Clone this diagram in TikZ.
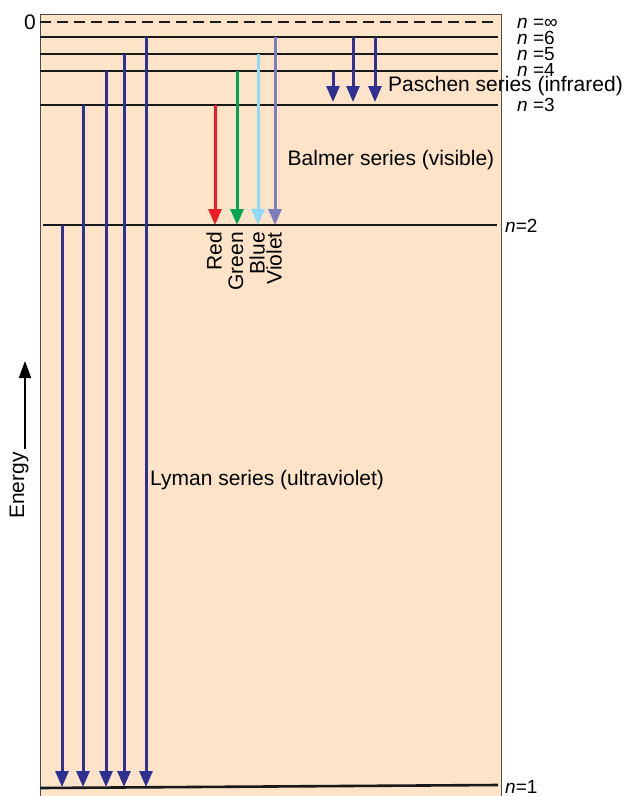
\documentclass[tikz,border=0pt]{standalone}
\usepackage{fontspec}
\setmainfont{Liberation Sans}
\usetikzlibrary{arrows.meta}
\definecolor{peach}{RGB}{253,227,200}
\definecolor{navy}{RGB}{46,49,146}
\definecolor{balred}{RGB}{237,28,36}
\definecolor{balgreen}{RGB}{0,166,81}
\definecolor{balblue}{RGB}{142,216,248}
\definecolor{balviolet}{RGB}{123,125,189}
\tikzset{
  level/.style={line width=2.6pt, black!90},
  trans/.style={line width=3pt, -{Triangle[length=16pt,width=13pt]}},
  lbl/.style={anchor=base west, inner sep=0pt, text height=12pt, text depth=0pt,
    font=\fontsize{19}{20}\selectfont}
}
\begin{document}
\begin{tikzpicture}[x=1pt, y=-1pt, font=\fontsize{21}{23}\selectfont]
    \useasboundingbox (0,0) rectangle (624,796);
    \draw[fill=peach, draw=black!70, line width=1pt] (40,14) rectangle (501,800);

    % energy levels
    \coordinate (inf-l) at (40,22);  \coordinate (inf-r) at (498,22);
    \coordinate (n6-l) at (40,37);   \coordinate (n6-r) at (498,37);
    \coordinate (n5-l) at (40,54);   \coordinate (n5-r) at (498,54);
    \coordinate (n4-l) at (40,71);   \coordinate (n4-r) at (498,71);
    \coordinate (n3-l) at (40,105);  \coordinate (n3-r) at (498,105);
    \coordinate (n2-l) at (43,225);  \coordinate (n2-r) at (497,225);
    \coordinate (n1-l) at (40,788);  \coordinate (n1-r) at (498,785);

    \draw[level, dashed, dash pattern=on 11pt off 6pt] (inf-l) to (inf-r);
    \draw[level] (n6-l) to (n6-r);
    \draw[level] (n5-l) to (n5-r);
    \draw[level] (n4-l) to (n4-r);
    \draw[level] (n3-l) to (n3-r);
    \draw[level] (n2-l) to (n2-r);
    \draw[level] (n1-l) to (n1-r);

    \node[anchor=east, inner sep=1pt] at (37,22) (zero) {0};
    \node[lbl] at (517,28) (ninf) {\textit{n} =∞};
    \node[lbl] at (517,44) (n6) {\textit{n} =6};
    \node[lbl] at (517,60) (n5) {\textit{n} =5};
    \node[lbl] at (517,76) (n4) {\textit{n} =4};
    \node[lbl] at (517,111) (n3) {\textit{n} =3};
    \node[lbl] at (505,232) (n2) {\textit{n}=2};
    \node[lbl] at (505,793) (n1) {\textit{n}=1};

    % Lyman series
    \coordinate (ly2) at (62,225);  \coordinate (ly2e) at (62,787);
    \coordinate (ly3) at (83,105);  \coordinate (ly3e) at (83,787);
    \coordinate (ly4) at (106,71);  \coordinate (ly4e) at (106,787);
    \coordinate (ly5) at (124,54);  \coordinate (ly5e) at (124,787);
    \coordinate (ly6) at (146,37);  \coordinate (ly6e) at (146,787);
    \draw[trans, navy] (ly2) to (ly2e);
    \draw[trans, navy] (ly3) to (ly3e);
    \draw[trans, navy] (ly4) to (ly4e);
    \draw[trans, navy] (ly5) to (ly5e);
    \draw[trans, navy] (ly6) to (ly6e);
    \node[anchor=west, inner sep=0pt] at (150,480) (lyman) {Lyman series (ultraviolet)};

    % Balmer series
    \coordinate (ba3) at (215,105);  \coordinate (ba3e) at (215,225);
    \coordinate (ba4) at (237,71);   \coordinate (ba4e) at (237,225);
    \coordinate (ba5) at (258,54);   \coordinate (ba5e) at (258,225);
    \coordinate (ba6) at (275,37);   \coordinate (ba6e) at (275,225);
    \draw[trans, balred] (ba3) to (ba3e);
    \draw[trans, balgreen] (ba4) to (ba4e);
    \draw[trans, balblue] (ba5) to (ba5e);
    \draw[trans, balviolet] (ba6) to (ba6e);
    \node[rotate=90, anchor=east, inner sep=0pt] at (214,232) (red) {Red};
    \node[rotate=90, anchor=east, inner sep=0pt] at (236,232) (green) {Green};
    \node[rotate=90, anchor=east, inner sep=0pt] at (257,232) (blue) {Blue};
    \node[rotate=90, anchor=east, inner sep=0pt] at (274,232) (violet) {Violet};
    \node at (391,160) (balmer) {Balmer series (visible)};

    % Paschen series
    \coordinate (pa4) at (333,71);  \coordinate (pa4e) at (333,102);
    \coordinate (pa6) at (353,37);  \coordinate (pa6e) at (353,102);
    \coordinate (pb6) at (375,37);  \coordinate (pb6e) at (375,102);
    \draw[trans, navy] (pa4) to (pa4e);
    \draw[trans, navy] (pa6) to (pa6e);
    \draw[trans, navy] (pb6) to (pb6e);
    \node[anchor=west, inner sep=0pt] at (388,86) (paschen) {Paschen series (infrared)};

    % energy axis
    \coordinate (en-a) at (25,449);  \coordinate (en-b) at (25,361);
    \draw[line width=1.8pt, -{Triangle[length=17pt,width=12pt]}] (en-a) to (en-b);
    \node[rotate=90, anchor=east, inner sep=0pt] at (19,452) (energy) {Energy};
\end{tikzpicture}
\end{document}
